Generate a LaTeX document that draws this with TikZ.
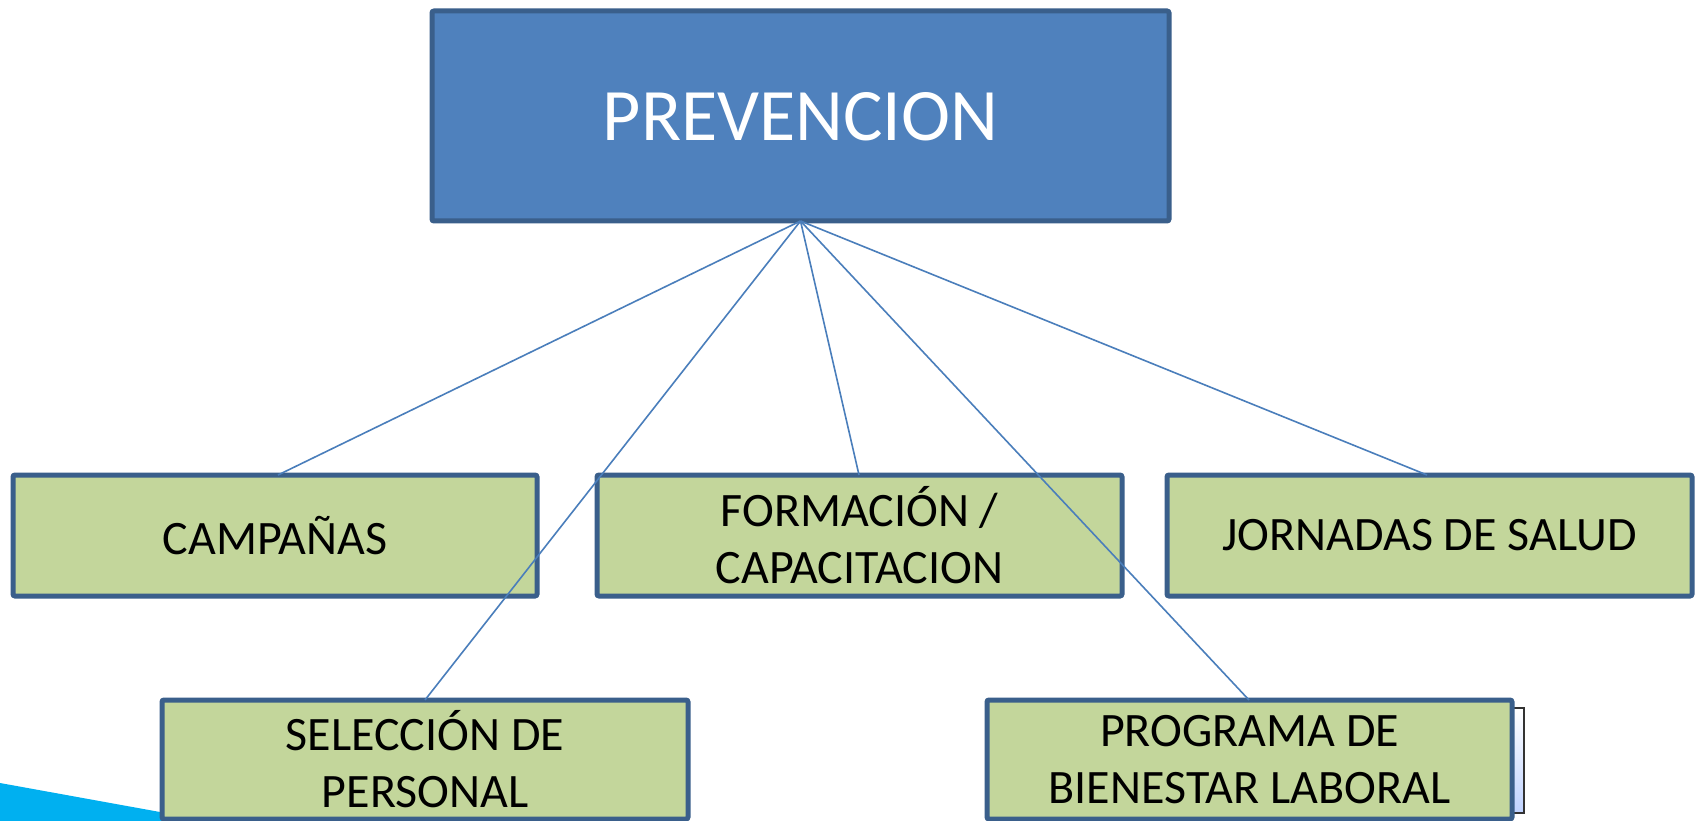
\documentclass[tikz,border=0pt]{standalone}
\usepackage{fontspec}
\setmainfont{Carlito}
\definecolor{topfill}{HTML}{4F81BD}
\definecolor{boxedge}{HTML}{3A5F8B}
\definecolor{greenfill}{HTML}{C3D69B}
\definecolor{linkcol}{HTML}{4A7EBB}
\definecolor{cyanshape}{HTML}{00B0F0}
\begin{document}
\begin{tikzpicture}[x=1pt,y=-1pt,
  topbox/.style={draw=boxedge,fill=topfill,line width=5pt,rounded corners=2pt},
  leafbox/.style={draw=boxedge,fill=greenfill,line width=5pt,rounded corners=2pt},
  toptext/.style={text=white,font=\fontsize{74}{89}\selectfont},
  leaftext/.style={text=black,align=center,font=\fontsize{48}{57}\selectfont},
  link/.style={draw=linkcol,line width=1.6pt}]
\useasboundingbox (0,0) rectangle (1695,821);
\fill[white] (0,0) rectangle (1695,821);
% cyan decoration bottom-left
\fill[cyanshape] (0,783) -- (320,841) -- (0,841) -- cycle;
% small partly hidden picture right of PROGRAMA
\draw[black!80,line width=1.2pt,top color=white,bottom color=cyan!30!blue!25] (1505,708) rectangle (1524,813);
% boxes
\path[topbox] (432,11) rectangle (1169,221);
\node[toptext] (prev) at (800.5,117) {PREVENCION};
\coordinate (root) at (800.5,221);
\path[leafbox] (13,475) rectangle (537,596);
\node[leaftext] (camp) at (275,535.5) {CAMPAÑAS};
\coordinate (campT) at (278,475);
\path[leafbox] (597,475) rectangle (1122,596);
\node[leaftext] (form) at (859.5,535.5) {FORMACIÓN /\\CAPACITACION};
\coordinate (formT) at (859,475);
\path[leafbox] (1167,475) rectangle (1692,596);
\node[leaftext] (jorn) at (1429.5,535.5) {JORNADAS DE SALUD};
\coordinate (jornT) at (1427,475);
\path[leafbox] (162,700) rectangle (688,819);
\node[leaftext] (sel) at (425,759.5) {SELECCIÓN DE\\PERSONAL};
\coordinate (selT) at (425,700);
\path[leafbox] (987,700) rectangle (1512,819);
\node[leaftext] (prog) at (1249.5,759.5) {PROGRAMA DE\\BIENESTAR LABORAL};
\coordinate (progT) at (1249,700);
% connectors
\draw[link] (root) -- (campT);
\draw[link] (root) -- (selT);
\draw[link] (root) -- (formT);
\draw[link] (root) -- (progT);
\draw[link] (root) -- (jornT);
\end{tikzpicture}
\end{document}
